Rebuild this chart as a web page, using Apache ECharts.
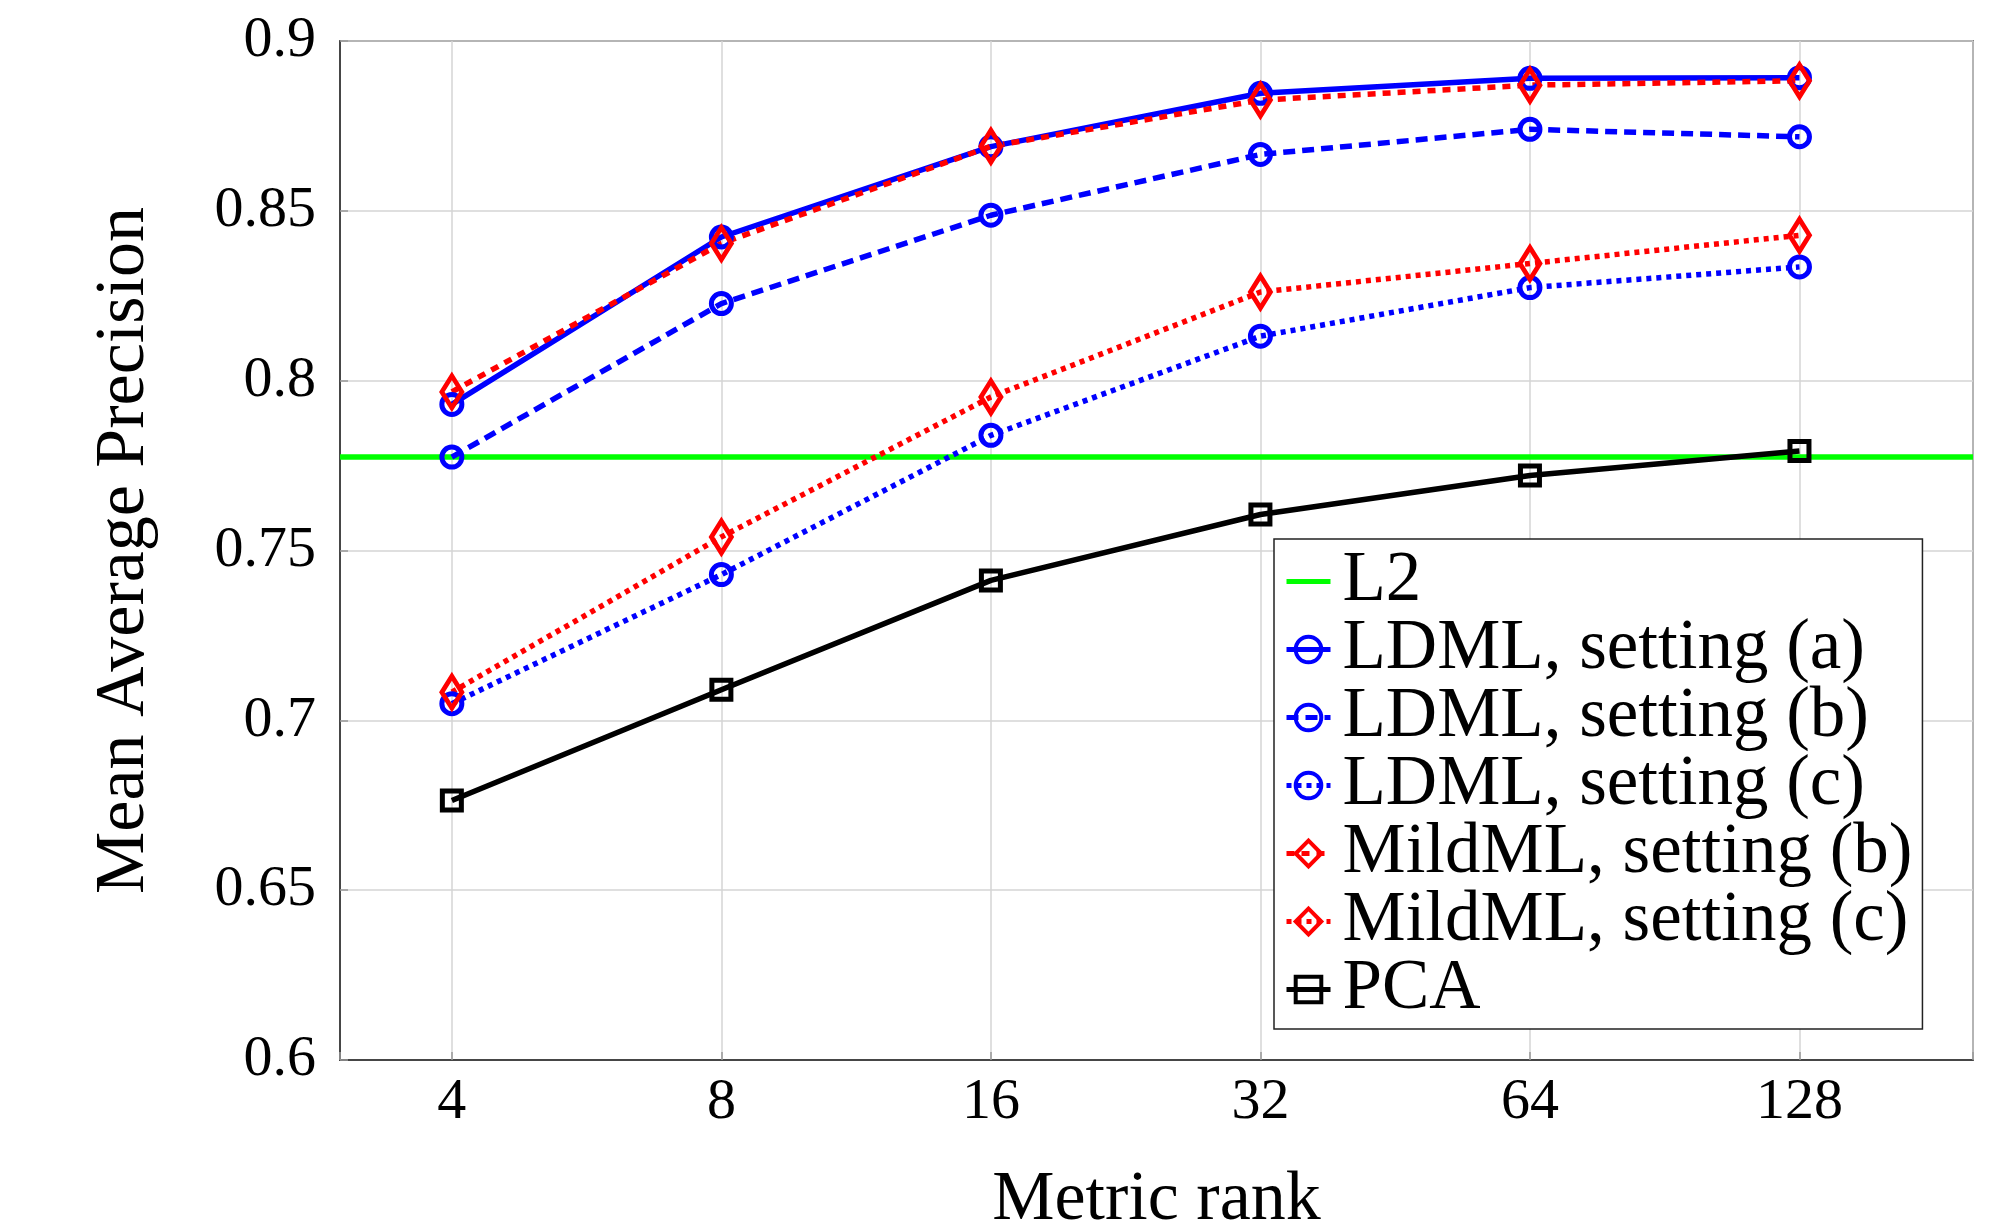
<!DOCTYPE html>
<html>
<head>
<meta charset="utf-8">
<script src="https://cdn.jsdelivr.net/npm/echarts@6/dist/echarts.min.js"></script>
<style>
  html, body { margin: 0; padding: 0; background: #fff; }
  #chart { width: 2014px; height: 1231px; }
</style>
</head>
<body>
<div id="chart"></div>
<script>
// metric ranks (x) and mean average precision per method (y)
const ranks = [4, 8, 16, 32, 64, 128];
const xRange = [3, 200];
const l2Value = 0.7775;
const ldmlA = [0.793, 0.8423, 0.8689, 0.8846, 0.889, 0.8892];
const ldmlB = [0.7775, 0.8227, 0.8487, 0.8666, 0.874, 0.8718];
const ldmlC = [0.7049, 0.7429, 0.7839, 0.8131, 0.8274, 0.8335];
const mildB = [0.7967, 0.8404, 0.869, 0.8826, 0.887, 0.8883];
const mildC = [0.7083, 0.754, 0.7952, 0.8261, 0.8345, 0.8428];
const pca = [0.6764, 0.709, 0.7412, 0.7606, 0.7721, 0.7793];
const yTicks = [0.6, 0.65, 0.7, 0.75, 0.8, 0.85, 0.9];

const FONT = '"Liberation Serif", "DejaVu Serif", serif';
const BLUE = '#0000ff', RED = '#ff0000', GREEN = '#00ff00', BLACK = '#000000';
const LW = 5.5;

function pts(vals) {
  return ranks.map((r, i) => [r, vals[i]]);
}

function mkSeries(name, vals, color, dash, symbol, size) {
  return {
    name: name,
    type: 'line',
    data: pts(vals),
    symbol: symbol,
    symbolSize: size,
    showSymbol: true,
    lineStyle: { color: color, width: LW, type: dash },
    itemStyle: { color: 'rgba(255,255,255,0)', borderColor: color, borderWidth: 5 },
    emphasis: { disabled: true },
    animation: false
  };
}

const chart = echarts.init(document.getElementById('chart'));

const option = {
  animation: false,
  grid: {
    left: 340, top: 41, right: 41, bottom: 171,
    outerBoundsMode: 'none',
    containLabel: false,
    show: true, borderColor: '#222', borderWidth: 1.5, backgroundColor: '#fff'
  },
  legend: {
    orient: 'vertical',
    left: 1274, top: 539,
    padding: [7, 10, 4, 10],
    itemWidth: 44, itemHeight: 32, itemGap: -3,
    backgroundColor: '#fff',
    borderColor: '#222', borderWidth: 1.5, borderRadius: 0,
    lineStyle: { width: 5 },
    itemStyle: { borderWidth: 4 },
    textStyle: { fontFamily: FONT, fontSize: 71, color: '#000', lineHeight: 63, padding: [0, 0, 0, 7] },
    data: [
      { name: 'L2', itemStyle: { color: 'rgba(255,255,255,0)', borderWidth: 0, opacity: 0 } },
      'LDML, setting (a)', 'LDML, setting (b)', 'LDML, setting (c)',
      'MildML, setting (b)', 'MildML, setting (c)', 'PCA'
    ]
  },
  xAxis: {
    type: 'log',
    logBase: 2,
    min: xRange[0],
    max: xRange[1],
    name: 'Metric rank',
    nameLocation: 'middle',
    nameGap: 106,
    nameTextStyle: { fontFamily: FONT, fontSize: 70, color: '#000' },
    axisLine: { show: true, lineStyle: { color: '#222', width: 1.5 } },
    axisTick: { show: true, inside: true, length: 8, lineStyle: { color: '#999', width: 1.5 } },
    minorTick: { show: false },
    splitLine: { show: true, lineStyle: { color: '#d4d4d4', width: 1.5 } },
    axisLabel: {
      fontFamily: FONT, fontSize: 58, color: '#000', margin: 14,
      formatter: function (v) {
        const e = Math.log2(v);
        return Math.abs(e - Math.round(e)) < 1e-6 && ranks.indexOf(Math.round(v)) >= 0 ? String(Math.round(v)) : '';
      }
    }
  },
  yAxis: {
    type: 'value',
    min: yTicks[0],
    max: yTicks[yTicks.length - 1],
    interval: 0.05,
    name: 'Mean Average Precision',
    nameLocation: 'middle',
    nameGap: 180,
    nameTextStyle: { fontFamily: FONT, fontSize: 70, color: '#000' },
    axisLine: { show: true, lineStyle: { color: '#222', width: 1.5 } },
    axisTick: { show: true, inside: true, length: 8, lineStyle: { color: '#999', width: 1.5 } },
    splitLine: { show: true, lineStyle: { color: '#d4d4d4', width: 1.5 } },
    axisLabel: {
      fontFamily: FONT, fontSize: 58, color: '#000', margin: 24,
      formatter: function (v) { return String(Math.round(v * 100) / 100); }
    }
  },
  series: [
    {
      name: 'L2',
      type: 'line',
      data: xRange.map(x => [x, l2Value]),
      symbol: 'none',
      lineStyle: { color: GREEN, width: LW },
      itemStyle: { color: GREEN },
      emphasis: { disabled: true },
      animation: false
    },
    mkSeries('LDML, setting (a)', ldmlA, BLUE, 'solid', 'circle', 20),
    mkSeries('LDML, setting (b)', ldmlB, BLUE, [12, 7], 'circle', 20),
    mkSeries('LDML, setting (c)', ldmlC, BLUE, [5, 5], 'circle', 20),
    mkSeries('MildML, setting (b)', mildB, RED, [8, 7], 'diamond', [20, 32]),
    mkSeries('MildML, setting (c)', mildC, RED, [5, 5], 'diamond', [20, 32]),
    mkSeries('PCA', pca, BLACK, 'solid', 'rect', 19)
  ]
};

chart.setOption(option);
</script>
</body>
</html>
